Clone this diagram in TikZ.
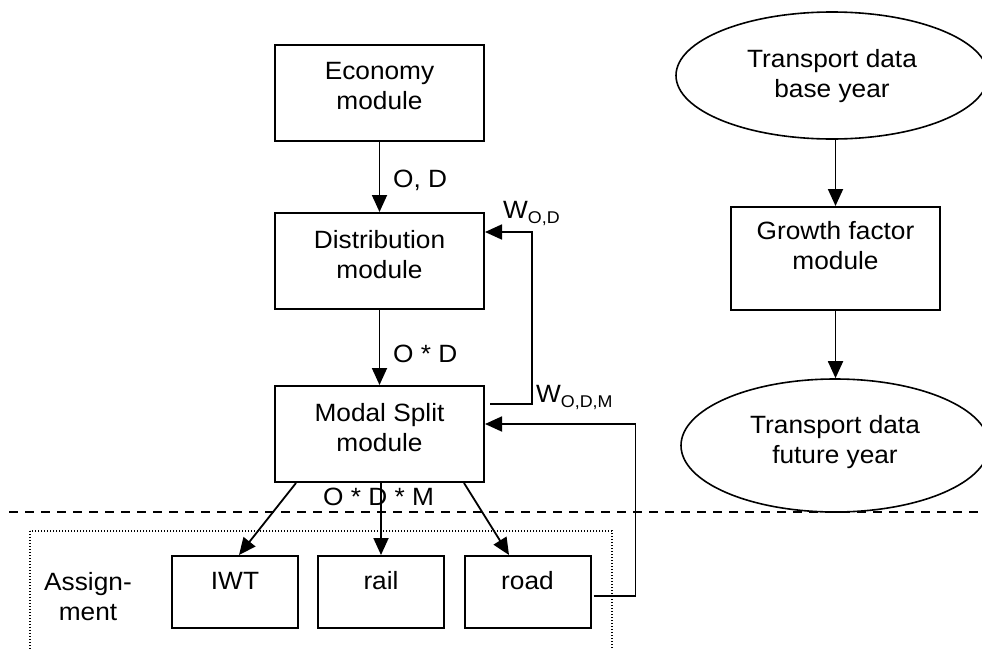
\documentclass[tikz,border=0pt]{standalone}
\usepackage{fontspec}
\setmainfont{Liberation Sans}[FakeStretch=1.05]
\usetikzlibrary{arrows.meta,shapes.geometric}
\begin{document}
\begin{tikzpicture}[x=1pt,y=-1pt,
  box/.style={draw, line width=2pt, minimum width=209pt, minimum height=96pt, inner sep=0pt},
  smallbox/.style={draw, line width=2pt, minimum width=126pt, minimum height=72pt, inner sep=0pt},
  oval/.style={draw, ellipse, line width=1.6pt, inner sep=0pt},
  txt/.style={align=center, inner sep=0pt, font=\fontsize{25}{30}\selectfont},
  lbl/.style={inner sep=0pt, font=\fontsize{25}{30}\selectfont},
  arr/.style={line width=1.8pt, -{Triangle[length=17pt,width=15pt]}},
]
\useasboundingbox (0,0) rectangle (982,648);

% left column
\node[box] (eco) at (379.5,93) {};
\node[txt] (ecoT) at (379.5,86.5) {Economy\\module};
\node[box] (dist) at (379.5,261) {};
\node[txt] (distT) at (379.5,254.6) {Distribution\\module};
\node[box] (modal) at (379.5,434) {};
\node[txt] (modalT) at (379.5,427.4) {Modal Split\\module};

\node[smallbox] (iwt) at (235,592) {};
\node[txt] (iwtT) at (235,581) {IWT};
\node[smallbox] (rail) at (381,592) {};
\node[txt] (railT) at (381,581) {rail};
\node[smallbox] (road) at (527.5,592) {};
\node[txt] (roadT) at (527.5,581) {road};
\node[txt] (assign) at (88,597) {Assign-\\ment};

% right column
\node[oval, minimum width=312pt, minimum height=127pt] (tdb) at (832,75.5) {};
\node[txt] (tdbT) at (832,75.7) {Transport data\\base year};
\node[box, minimum height=103pt] (growth) at (835.5,258.5) {};
\node[txt] (growthT) at (835.5,245.5) {Growth factor\\module};
\node[oval, minimum width=308pt, minimum height=133pt] (tdf) at (835,445.5) {};
\node[txt] (tdfT) at (835,441.7) {Transport data\\future year};

% separators
\draw[line width=1.6pt, dash pattern=on 9pt off 7pt] (9,512) -- (982,512);
\draw[line width=1.4pt, dash pattern=on 1.3pt off 1.7pt] (30,531) rectangle (612,660);

% labels
\node[lbl, anchor=base west] (lod) at (393,187) {O, D};
\node[lbl, anchor=base west] (lodx) at (393,362) {O * D};
\node[lbl, anchor=base west] (lodm) at (323,505) {O * D * M};
\node[lbl, anchor=base west] (wod) at (503,218) {W\raisebox{-5pt}{\fontsize{17}{17}\selectfont O,D}};
\node[lbl, anchor=base west] (wodm) at (536,402) {W\raisebox{-5pt}{\fontsize{17}{17}\selectfont O,D,M}};

% connectors
\draw[arr] (eco.south) -- (dist.north);
\draw[arr] (dist.south) -- (modal.north);
\draw[arr] ([xshift=-83.5pt]modal.south) -- ([xshift=4pt]iwt.north);
\draw[arr] (rail.north |- modal.south) -- (rail.north);
\draw[arr] ([xshift=84.5pt]modal.south) -- ([xshift=-18.5pt]road.north);
\draw[arr] ([xshift=5pt,yshift=30pt]modal.east) -- ++(42,0) |- ([yshift=29pt]dist.east);
\draw[arr] ([xshift=2pt,yshift=-4pt]road.east) -- ++(42,0) |- ([yshift=10pt]modal.east);
\draw[arr] (growth.north |- tdb.south) -- (growth.north);
\draw[arr] (growth.south) -- (growth.south |- tdf.north);
\end{tikzpicture}
\end{document}
